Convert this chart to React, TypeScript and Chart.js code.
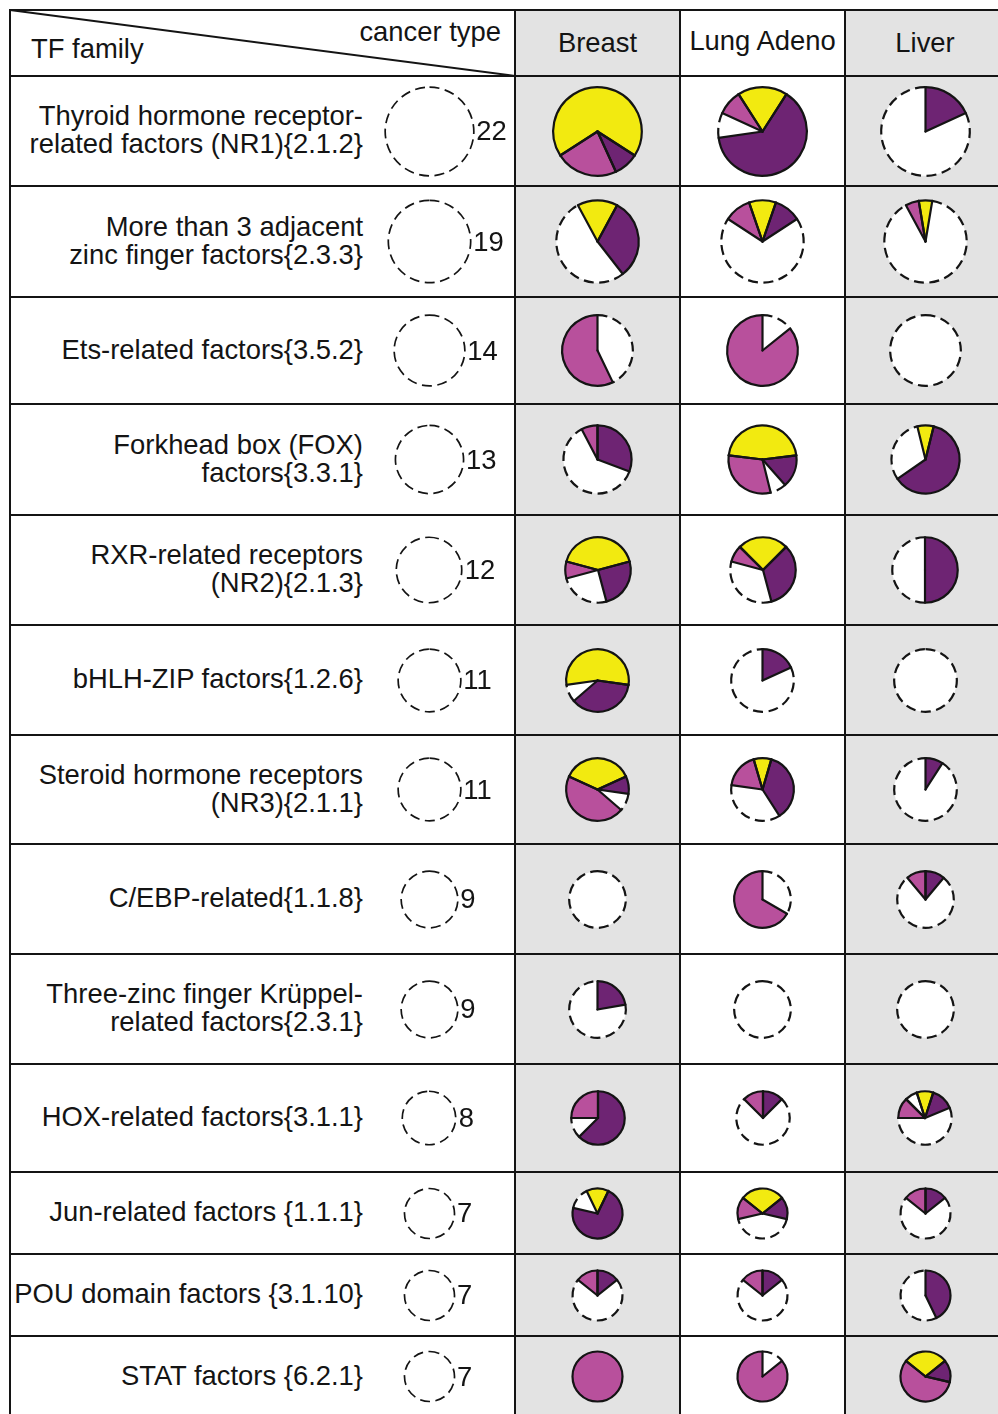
import { useEffect, useRef } from "react";
import { Chart, PieController, ArcElement } from "chart.js";

Chart.register(PieController, ArcElement);

// TF families, one entry per table row (line breaks as printed)
const familyLabels: string[][] = [
  ["Thyroid hormone receptor-", "related factors (NR1){2.1.2}"],
  ["More than 3 adjacent", "zinc finger factors{2.3.3}"],
  ["Ets-related factors{3.5.2}"],
  ["Forkhead box (FOX)", "factors{3.3.1}"],
  ["RXR-related receptors", "(NR2){2.1.3}"],
  ["bHLH-ZIP factors{1.2.6}"],
  ["Steroid hormone receptors", "(NR3){2.1.1}"],
  ["C/EBP-related{1.1.8}"],
  ["Three-zinc finger Krüppel-", "related factors{2.3.1}"],
  ["HOX-related factors{3.1.1}"],
  ["Jun-related factors {1.1.1}"],
  ["POU domain factors {3.1.10}"],
  ["STAT factors {6.2.1}"],
];

// number of TFs in each family
const familySizes = [22, 19, 14, 13, 12, 11, 11, 9, 9, 8, 7, 7, 7];

const cancerTypes = ["Breast", "Lung Adeno", "Liver"];

// slice values per family, per cancer type
const breastYellow = [15, 3, 0, 0, 5, 6, 4, 0, 0, 0, 1, 0, 0];
const breastPink = [5, 0, 8, 1, 1, 0, 5, 0, 0, 2, 0, 1, 7];
const breastPurple = [2, 6, 0, 4, 3, 4, 1, 0, 2, 5, 5, 1, 0];
const breastOther = [0, 0, 0, 0, 0, 0, 0, 0, 0, 0, 0, 0, 0];

const lungYellow = [4, 2, 0, 6, 3, 0, 1, 0, 0, 0, 2, 0, 0];
const lungPink = [2, 2, 12, 4, 1, 0, 2, 6, 0, 1, 1, 1, 6];
const lungPurple = [14, 2, 0, 2, 4, 2, 4, 0, 0, 1, 1, 1, 0];
const lungOther = [0, 0, 0, 0, 0, 0, 0, 0, 0, 0, 0, 0, 0];

const liverYellow = [0, 1, 0, 1, 0, 0, 0, 0, 0, 0.8, 0, 0, 2];
const liverPink = [0, 1, 0, 0, 0, 0, 0, 1, 0, 1, 1, 0, 4];
const liverPurple = [4, 0, 0, 8, 6, 0, 1, 1, 0, 1.1, 1, 3, 1];
const liverOther = [0, 0, 0, 0, 0, 0, 0, 0, 0, 0.6, 0, 0, 0];

const seriesByType = [
  { yellow: breastYellow, pink: breastPink, purple: breastPurple, other: breastOther },
  { yellow: lungYellow, pink: lungPink, purple: lungPurple, other: lungOther },
  { yellow: liverYellow, pink: liverPink, purple: liverPurple, other: liverOther },
];

const YELLOW = "#f2ea10";
const PINK = "#b8509c";
const PURPLE = "#6e2473";
const WHITE = "#ffffff";
const INK = "#141414";
const GRAY = "#e3e3e3";
const DASH = [10, 5.5];

// layout of the table
const rowEdges = [76, 186, 297, 404, 515, 625, 735, 844, 954, 1064, 1172, 1254, 1336, 1417];
const colEdges = [10, 515, 680, 845, 1010];
const pieCenterX = [597.5, 762.5, 925];
const countCenterX = 429;
const RADIUS_PER_SQRT = 9.45;
const FONT = '"Liberation Sans", Arial, Helvetica, sans-serif';

// outlines: remainder slice gets a dashed rim, the coloured slices solid rims and edges
function outlinePlugin(lineWidth: number, restIndex: number) {
  return {
    id: "sliceOutlines",
    afterDatasetsDraw(chart: any) {
      const ctx: CanvasRenderingContext2D = chart.ctx;
      const meta = chart.getDatasetMeta(0);
      const data = chart.data.datasets[0].data as number[];
      const total = data.reduce((a, b) => a + b, 0);
      ctx.save();
      ctx.strokeStyle = INK;
      ctx.lineWidth = lineWidth;
      ctx.lineCap = "butt";
      meta.data.forEach((el: any, i: number) => {
        if (!(data[i] > 0)) return;
        const p = el.getProps(["x", "y", "startAngle", "endAngle", "outerRadius"], true);
        ctx.setLineDash(i === restIndex ? DASH : []);
        ctx.beginPath();
        ctx.arc(p.x, p.y, p.outerRadius, p.startAngle, p.endAngle);
        ctx.stroke();
      });
      ctx.setLineDash([]);
      ctx.lineCap = "round";
      meta.data.forEach((el: any, i: number) => {
        if (i === restIndex || !(data[i] > 0) || data[i] >= total) return;
        const p = el.getProps(["x", "y", "startAngle", "endAngle", "outerRadius"], true);
        for (const a of [p.startAngle, p.endAngle]) {
          ctx.beginPath();
          ctx.moveTo(p.x, p.y);
          ctx.lineTo(p.x + p.outerRadius * Math.cos(a), p.y + p.outerRadius * Math.sin(a));
          ctx.stroke();
        }
      });
      ctx.restore();
    },
  };
}

type PieProps = {
  cx: number;
  cy: number;
  r: number;
  values: number[];
  colors: string[];
  rotation: number;
  lineWidth: number;
};

function PieCell({ cx, cy, r, values, colors, rotation, lineWidth }: PieProps) {
  const ref = useRef<HTMLCanvasElement>(null);
  const size = Math.ceil(2 * r + 10);
  useEffect(() => {
    const chart = new Chart(ref.current as HTMLCanvasElement, {
      type: "pie",
      data: {
        labels: values.map((_, i) => String(i)),
        datasets: [
          {
            data: values,
            backgroundColor: colors,
            borderWidth: 0,
            radius: r,
            rotation,
          } as any,
        ],
      },
      options: {
        responsive: false,
        animation: false,
        devicePixelRatio: 1,
        events: [],
        radius: r,
        rotation,
        layout: { padding: 0 },
      } as any,
      plugins: [outlinePlugin(lineWidth, 0)],
    });
    return () => chart.destroy();
  }, []);
  return (
    <canvas
      ref={ref}
      width={size}
      height={size}
      style={{ position: "absolute", left: cx - size / 2, top: cy - size / 2, width: size, height: size }}
    />
  );
}

const abs = (s: any) => ({ position: "absolute" as const, ...s });

export default function App() {
  const rows = familySizes.map((n, i) => {
    const top = rowEdges[i];
    const bottom = rowEdges[i + 1];
    return { n, cy: (top + bottom) / 2, r: RADIUS_PER_SQRT * Math.sqrt(n) };
  });

  const lines: any[] = [];
  // horizontal rules
  [10, ...rowEdges].forEach((y, i) =>
    lines.push(<div key={"h" + i} style={abs({ left: 9, top: y - 1, width: 1010, height: 2, background: INK })} />)
  );
  // vertical rules
  colEdges.forEach((x, i) =>
    lines.push(<div key={"v" + i} style={abs({ left: x - 1, top: 9, width: 2, height: 1420, background: INK })} />)
  );

  return (
    <div
      style={{
        position: "fixed",
        left: 0,
        top: 0,
        width: 998,
        height: 1414,
        overflow: "hidden",
        background: "#fff",
        fontFamily: FONT,
        fontSize: 27.4,
        color: INK,
      }}
    >
      {/* shaded columns */}
      <div style={abs({ left: colEdges[1], top: 10, width: colEdges[2] - colEdges[1], height: 1410, background: GRAY })} />
      <div style={abs({ left: colEdges[3], top: 10, width: colEdges[4] - colEdges[3], height: 1410, background: GRAY })} />

      {/* header */}
      <svg style={abs({ left: 0, top: 0 })} width={520} height={80}>
        <line x1={10} y1={10} x2={515} y2={76} stroke={INK} strokeWidth={2} />
      </svg>
      <div style={abs({ left: 31, top: 49, transform: "translateY(-50%)", lineHeight: "30px", whiteSpace: "nowrap" })}>TF family</div>
      <div
        style={abs({ left: 260, width: 241, top: 32, transform: "translateY(-50%)", lineHeight: "30px", textAlign: "right", whiteSpace: "nowrap" })}
      >
        cancer type
      </div>
      {cancerTypes.map((t, j) => (
        <div
          key={t}
          style={abs({
            left: colEdges[j + 1],
            width: colEdges[j + 2] - colEdges[j + 1] - (j === 2 ? 5 : 0),
            top: j === 1 ? 41 : 43,
            transform: "translateY(-50%)",
            lineHeight: "30px",
            textAlign: "center",
            whiteSpace: "nowrap",
          })}
        >
          {t}
        </div>
      ))}

      {/* family names */}
      {rows.map((row, i) => (
        <div
          key={"lab" + i}
          style={abs({
            left: 6,
            width: 357,
            top: row.cy - 1,
            transform: "translateY(-50%)",
            lineHeight: "28px",
            textAlign: "right",
            whiteSpace: "nowrap",
          })}
        >
          {familyLabels[i].map((l, k) => (
            <div key={k}>{l}</div>
          ))}
        </div>
      ))}

      {/* family size circles */}
      {rows.map((row, i) => (
        <PieCell
          key={"cnt" + i}
          cx={countCenterX}
          cy={row.cy}
          r={row.r}
          values={[row.n]}
          colors={[WHITE]}
          rotation={0}
          lineWidth={1.7}
        />
      ))}
      {rows.map((row, i) => (
        <div
          key={"num" + i}
          style={abs({ left: countCenterX + row.r + 3, top: row.cy, transform: "translateY(-50%)", lineHeight: "30px" })}
        >
          {row.n}
        </div>
      ))}

      {/* pies per cancer type */}
      {seriesByType.map((s, j) =>
        rows.map((row, i) => {
          const y = s.yellow[i];
          const p = s.pink[i];
          const pu = s.purple[i];
          const o = s.other[i];
          const rest = Math.max(row.n - y - p - pu - o, 0);
          // clockwise: remainder, pink, other, yellow (centred on top), purple
          const rotation = (-(rest + p + o + y / 2) / row.n) * 360;
          return (
            <PieCell
              key={"pie" + j + "-" + i}
              cx={pieCenterX[j]}
              cy={row.cy}
              r={row.r}
              values={[rest, p, o, y, pu]}
              colors={[WHITE, PINK, WHITE, YELLOW, PURPLE]}
              rotation={rotation}
              lineWidth={2.2}
            />
          );
        })
      )}

      {lines}
    </div>
  );
}
